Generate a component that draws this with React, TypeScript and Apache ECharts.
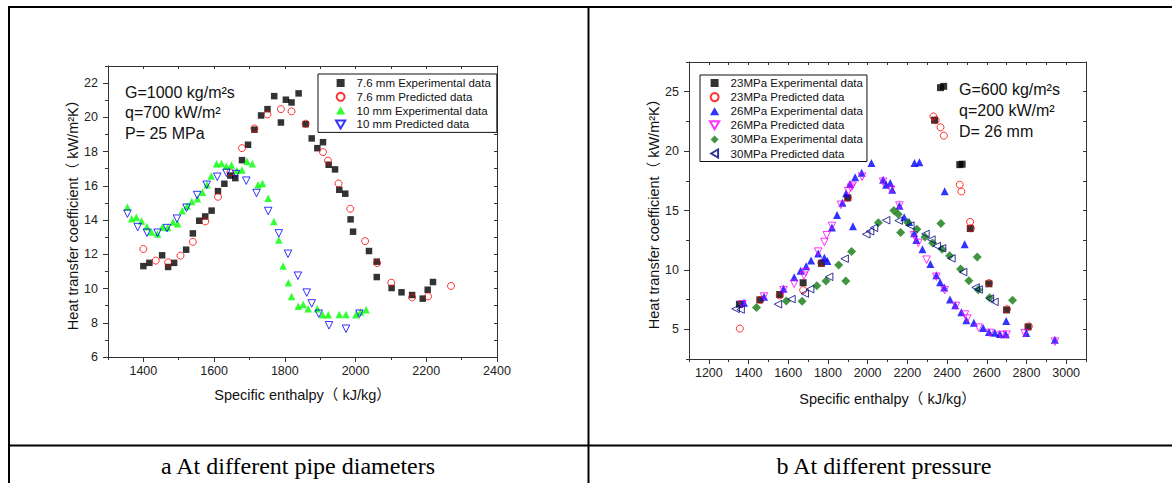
import { useEffect, useRef } from 'react';
import * as echarts from 'echarts';

const FONT = '"Liberation Sans", Arial, "Noto Sans CJK SC", sans-serif';
const SERIF = '"Liberation Serif", "Times New Roman", serif';

// ---------- Panel a : different pipe diameters ----------
const namesA = [
  '7.6 mm Experimental data',
  '7.6 mm Predicted data',
  '10 mm Experimental data',
  '10 mm Predicted data',
];
const exp76: [number, number][] = [
  [1400, 11.31], [1417, 11.5], [1453, 11.94], [1470, 11.26], [1487, 11.5], [1521, 12.27],
  [1540, 13.22], [1558, 13.96], [1575, 14.21], [1593, 14.55], [1611, 15.69], [1629, 16.12],
  [1646, 16.6], [1660, 16.45], [1679, 17.5], [1696, 18.4], [1714, 19.28], [1733, 20.11],
  [1751, 20.48], [1770, 21.24], [1789, 19.7], [1803, 21.03], [1819, 20.87], [1839, 21.4],
  [1859, 19.6], [1876, 18.77], [1892, 18.2], [1908, 18.55], [1924, 17.23], [1942, 16.96],
  [1954, 15.77], [1971, 15.54], [1986, 14.04], [1993, 13.32], [2038, 12.19], [2060, 11.57],
  [2060, 10.67], [2102, 10.03], [2130, 9.78], [2160, 9.62], [2190, 9.41], [2204, 9.93],
  [2219, 10.38],
];
const pred76: [number, number][] = [
  [1400, 12.31], [1435, 11.63], [1470, 11.53], [1505, 11.92], [1540, 12.73], [1575, 13.92],
  [1611, 15.36], [1646, 16.78], [1679, 18.2], [1714, 19.35], [1751, 20.17], [1789, 20.48],
  [1819, 20.35], [1859, 19.63], [1908, 17.97], [1922, 17.47], [1952, 16.14], [1985, 14.66],
  [2027, 12.77], [2061, 11.49], [2101, 10.34], [2160, 9.48], [2205, 9.54], [2270, 10.15],
];
const exp10: [number, number][] = [
  [1355, 14.76], [1367, 14.08], [1380, 14.16], [1395, 13.94], [1410, 13.61], [1423, 13.3],
  [1440, 13.18], [1454, 13.59], [1469, 13.57], [1484, 13.88], [1497, 13.79], [1510, 14.55],
  [1524, 14.82], [1537, 15.09], [1553, 15.25], [1567, 15.63], [1580, 16.06], [1592, 16.57],
  [1607, 17.29], [1621, 17.31], [1635, 17.15], [1649, 17.21], [1664, 16.9], [1679, 16.92],
  [1693, 17.43], [1708, 17.29], [1724, 16.06], [1737, 16.14], [1753, 15.28], [1769, 13.92],
  [1783, 12.83], [1795, 11.31], [1810, 10.34], [1819, 9.54], [1838, 8.96], [1852, 9.06],
  [1866, 8.82], [1892, 8.82], [1907, 8.47], [1923, 8.47], [1954, 8.49], [1973, 8.49],
  [2001, 8.47], [2014, 8.63], [2030, 8.76],
];
const pred10: [number, number][] = [
  [1355, 14.37], [1384, 13.59], [1410, 13.26], [1440, 13.26], [1467, 13.53], [1495, 14.08],
  [1522, 14.72], [1552, 15.46], [1579, 16.06], [1609, 16.53], [1635, 16.76], [1662, 16.69],
  [1691, 16.3], [1720, 15.58], [1753, 14.53], [1783, 13.22], [1809, 12.03], [1837, 10.75],
  [1862, 9.76], [1876, 9.13], [1896, 8.53], [1925, 7.85], [1973, 7.65], [2011, 8.53],
];
const xTicksA = [1400, 1600, 1800, 2000, 2200, 2400];
const yTicksA = [6, 8, 10, 12, 14, 16, 18, 20, 22];
const notesA = ['G=1000 kg/m²s', 'q=700 kW/m²', 'P= 25 MPa'];

// ---------- Panel b : different pressure ----------
const namesB = [
  '23MPa Experimental data',
  '23MPa Predicted data',
  '26MPa Experimental data',
  '26MPa Predicted data',
  '30MPa Experimental data',
  '30MPa Predicted data',
];
const exp23: [number, number][] = [
  [1354, 7.11], [1457, 7.48], [1557, 7.93], [1675, 8.92], [1767, 10.55], [1900, 16.07],
  [2337, 22.6], [2367, 25.34], [2383, 25.45], [2464, 18.86], [2476, 18.9], [2517, 13.48],
  [2611, 8.83], [2700, 6.63], [2808, 5.2],
];
const pred23: [number, number][] = [
  [1356, 5.06], [1460, 7.48], [1557, 7.85], [1675, 8.3], [1767, 10.6], [1900, 16.07],
  [2331, 22.92], [2343, 22.6], [2367, 22.0], [2384, 21.3], [2464, 17.17], [2472, 16.6],
  [2516, 14.04], [2520, 13.5], [2611, 8.89], [2702, 6.69], [2812, 5.25],
];
const exp26: [number, number][] = [
  [1377, 7.23], [1478, 7.73], [1576, 8.41], [1630, 9.39], [1662, 9.93], [1690, 10.3],
  [1715, 10.8], [1751, 11.39], [1782, 11.03], [1797, 10.75], [1820, 13.56], [1846, 14.63],
  [1873, 15.65], [1892, 16.46], [1911, 17.23], [1937, 17.79], [1970, 18.18], [2019, 19.0],
  [1926, 13.68], [2078, 17.59], [2093, 17.17], [2114, 17.31], [2124, 16.75], [2160, 15.39],
  [2184, 14.44], [2209, 14.04], [2234, 13.08], [2245, 12.52], [2276, 11.73], [2316, 10.49],
  [2346, 9.56], [2365, 8.97], [2386, 8.52], [2415, 7.51], [2441, 7.03], [2472, 6.44],
  [2497, 5.76], [2535, 5.56], [2582, 5.11], [2611, 4.77], [2641, 4.72], [2666, 4.61],
  [2696, 4.58], [2236, 19.0], [2261, 19.06], [2388, 16.63], [2489, 12.15], [2698, 5.7],
  [2799, 4.69], [2943, 4.13],
];
const pred26: [number, number][] = [
  [1369, 7.11], [1478, 7.76], [1576, 8.3], [1630, 8.83], [1679, 9.51], [1688, 9.82],
  [1751, 11.54], [1782, 12.35], [1794, 12.92], [1820, 13.7], [1865, 15.48], [1902, 16.63],
  [1915, 16.92], [1924, 17.08], [1972, 17.85], [2078, 17.42], [2118, 16.75], [2160, 15.42],
  [2234, 12.92], [2255, 12.27], [2297, 10.86], [2346, 9.42], [2388, 8.3], [2445, 6.97],
  [2490, 6.24], [2502, 5.9], [2559, 5.14], [2616, 4.69], [2673, 4.52], [2700, 4.55],
  [2791, 4.66], [2943, 3.96],
];
const exp30: [number, number][] = [
  [1440, 6.83], [1590, 7.39], [1670, 7.37], [1744, 8.66], [1790, 9.06], [1854, 10.41],
  [1890, 9.06], [1919, 11.54], [2054, 13.96], [2132, 15.0], [2154, 14.69], [2166, 13.14],
  [2202, 13.99], [2248, 13.42], [2289, 12.77], [2327, 12.27], [2369, 13.9], [2375, 11.73],
  [2413, 11.2], [2468, 10.07], [2510, 9.08], [2552, 11.08], [2557, 8.32], [2614, 7.65],
  [2730, 7.45],
];
const pred30: [number, number][] = [
  [1335, 6.72], [1360, 6.66], [1548, 7.11], [1616, 7.54], [1683, 8.01], [1710, 8.38],
  [1806, 9.42], [1884, 10.94], [1993, 13.0], [2012, 13.25], [2032, 13.54], [2093, 14.18],
  [2156, 14.15], [2215, 13.73], [2291, 13.03], [2321, 12.55], [2348, 12.01], [2375, 11.82],
  [2422, 10.97], [2481, 9.82], [2544, 8.52], [2559, 8.35], [2616, 7.59], [2639, 7.31],
];
const xTicksB = [1200, 1400, 1600, 1800, 2000, 2200, 2400, 2600, 2800, 3000];
const yTicksB = [5, 10, 15, 20, 25];
const notesB = ['G=600 kg/m²s', 'q=200 kW/m²', 'D= 26 mm'];

const captions = ['a At different pipe diameters', 'b At different pressure'];
const xTitle = 'Specific enthalpy（ kJ/kg）';
const yTitle = 'Heat transfer coefficient（ kW/m²K）';

const SQUARE = 'path://M0,0L10,0L10,10L0,10Z';
const UP_TRI = 'path://M5,0L10,8.66L0,8.66Z';
const DOWN_TRI = 'path://M0,0L10,0L5,8.66Z';
const LEFT_TRI = 'path://M0,5L8.66,0L8.66,10Z';
const DIAMOND = 'path://M5,0L10,5L5,10L0,5Z';
const AXIS_COLOR = '#333';

function filled(color: string) {
  return { color, borderColor: color, borderWidth: 0 };
}
function hollow(color: string) {
  return { color: 'rgba(255,255,255,0)', borderColor: color, borderWidth: 1 };
}

function axesFor(
  dim: 'x' | 'y',
  gridIndex: number,
  min: number,
  max: number,
  minorStep: number,
  majors: number[],
  name: string,
  nameGap: number,
  labelMargin: number,
) {
  const main: any = {
    type: 'value',
    gridIndex,
    position: dim === 'x' ? 'bottom' : 'left',
    min,
    max,
    name,
    nameLocation: 'middle',
    nameGap,
    nameTextStyle: { fontFamily: FONT, fontSize: 14.5, color: '#111' },
    axisLine: { show: true, onZero: false, lineStyle: { color: AXIS_COLOR, width: 1 } },
    axisTick: { show: true, length: 5, customValues: majors, lineStyle: { color: AXIS_COLOR } },
    axisLabel: {
      show: true,
      customValues: majors,
      margin: labelMargin,
      fontFamily: FONT,
      fontSize: 12.5,
      color: '#222',
      formatter: (v: number) => String(v),
    },
    splitLine: { show: false },
  };
  const minor: any = {
    type: 'value',
    gridIndex,
    position: dim === 'x' ? 'bottom' : 'left',
    min,
    max,
    interval: minorStep,
    axisLine: { show: false, onZero: false },
    axisTick: { show: true, length: 3, lineStyle: { color: AXIS_COLOR } },
    axisLabel: { show: false },
    splitLine: { show: false },
  };
  const mirror: any = {
    type: 'value',
    gridIndex,
    position: dim === 'x' ? 'top' : 'right',
    min,
    max,
    interval: minorStep,
    axisLine: { show: true, onZero: false, lineStyle: { color: AXIS_COLOR, width: 1 } },
    axisTick: { show: true, inside: true, length: 3, lineStyle: { color: AXIS_COLOR } },
    axisLabel: { show: false },
    splitLine: { show: false },
  };
  return [main, minor, mirror];
}

function scatter(name: string, data: [number, number][], axisIndex: number, symbol: string, size: number, itemStyle: any) {
  return {
    type: 'scatter',
    name,
    data,
    xAxisIndex: axisIndex,
    yAxisIndex: axisIndex,
    symbol,
    symbolSize: size,
    itemStyle,
    emphasis: { disabled: true },
  };
}

function noteTexts(lines: string[], x: number, y0: number, step: number) {
  return lines.map((t, i) => ({
    type: 'text',
    x,
    y: y0 + i * step,
    style: {
      text: t,
      fontFamily: FONT,
      fontSize: 16,
      fill: '#111',
      align: 'left',
      verticalAlign: 'middle',
    },
  }));
}

export default function App() {
  const ref = useRef<HTMLDivElement>(null);

  useEffect(() => {
    if (!ref.current) return;
    const chart = echarts.init(ref.current, undefined, { renderer: 'svg' });

    const legendCommon = {
      orient: 'vertical',
      itemWidth: 22,
      itemHeight: 8,
      selectedMode: false,
      borderColor: '#111',
      borderWidth: 1,
      backgroundColor: '#fff',
      textStyle: { fontFamily: FONT, fontSize: 11.5, color: '#111', lineHeight: 12 },
    };

    const option: any = {
      animation: false,
      backgroundColor: '#fff',
      grid: [
        { left: 108, right: 675, top: 66, bottom: 126, containLabel: false },
        { left: 689, right: 86, top: 62, bottom: 124, containLabel: false },
      ],
      xAxis: [
        ...axesFor('x', 0, 1300, 2400, 100, xTicksA, xTitle, 31, 8),
        ...axesFor('x', 1, 1100, 3100, 100, xTicksB, xTitle, 33, 8),
      ],
      yAxis: [
        ...axesFor('y', 0, 6, 23, 1, yTicksA, yTitle, 28, 10),
        ...axesFor('y', 1, 2.5, 27.5, 2.5, yTicksB, yTitle, 28, 10),
      ],
      legend: [
        {
          ...legendCommon,
          data: namesA,
          left: 318,
          top: 74,
          itemGap: 1.8,
          padding: [3, 6, 2, 17],
        },
        {
          ...legendCommon,
          data: namesB,
          left: 700,
          top: 75,
          itemGap: 2.1,
          padding: [2, 4, 2, 9],
        },
      ],
      series: [
        scatter(namesA[0], exp76, 0, SQUARE, 6.5, filled('#000')),
        scatter(namesA[1], pred76, 0, 'circle', 7, hollow('#ff0000')),
        scatter(namesA[2], exp10, 0, UP_TRI, 7.5, filled('#00ff00')),
        scatter(namesA[3], pred10, 0, DOWN_TRI, 7.5, hollow('#0000ff')),
        scatter(namesB[0], exp23, 3, SQUARE, 7, filled('#000')),
        scatter(namesB[1], pred23, 3, 'circle', 7, hollow('#ff0000')),
        scatter(namesB[2], exp26, 3, UP_TRI, 8, filled('#0000ff')),
        scatter(namesB[3], pred26, 3, DOWN_TRI, 7.5, hollow('#ff00ff')),
        scatter(namesB[4], exp30, 3, DIAMOND, 9, filled('#127a12')),
        scatter(namesB[5], pred30, 3, LEFT_TRI, 7.5, hollow('#000080')),
      ],
      graphic: [
        // table lines
        { type: 'rect', shape: { x: 8, y: 6, width: 1164, height: 2 }, style: { fill: '#000' } },
        { type: 'rect', shape: { x: 8, y: 6, width: 2, height: 477 }, style: { fill: '#000' } },
        { type: 'rect', shape: { x: 587.5, y: 6, width: 2, height: 477 }, style: { fill: '#000' } },
        { type: 'rect', shape: { x: 8, y: 444.5, width: 1164, height: 2 }, style: { fill: '#000' } },
        ...noteTexts(notesA, 125, 92, 20.5),
        ...noteTexts(notesB, 959, 89, 21),
        {
          type: 'text',
          x: 298,
          y: 466,
          style: { text: captions[0], fontFamily: SERIF, fontSize: 24, fill: '#000', align: 'center', verticalAlign: 'middle' },
        },
        {
          type: 'text',
          x: 884,
          y: 466,
          style: { text: captions[1], fontFamily: SERIF, fontSize: 24, fill: '#000', align: 'center', verticalAlign: 'middle' },
        },
      ],
    };

    chart.setOption(option);
    return () => chart.dispose();
  }, []);

  return (
    <div
      ref={ref}
      style={{ position: 'fixed', left: 0, top: 0, width: 1172, height: 483, background: '#fff' }}
    />
  );
}
